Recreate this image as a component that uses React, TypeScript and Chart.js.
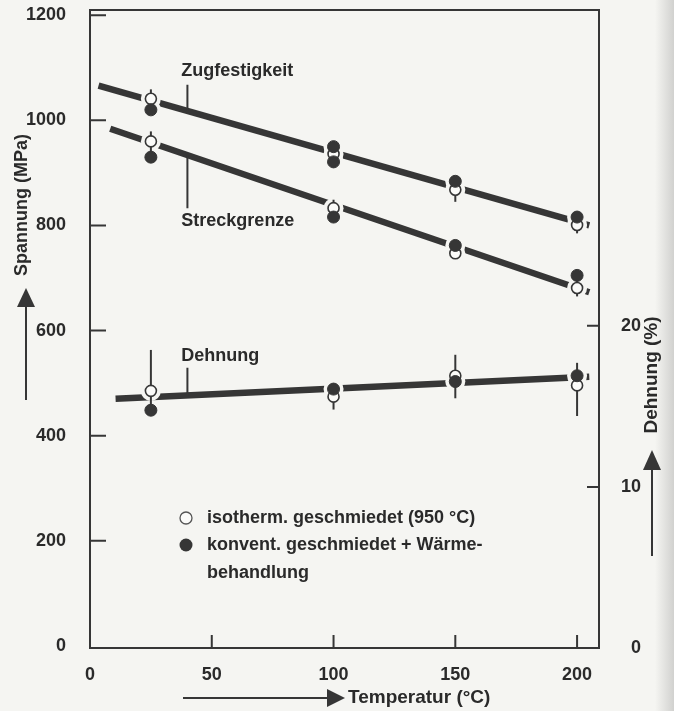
import React, { useEffect, useRef } from "react";
import { Chart, registerables } from "chart.js";

Chart.register(...registerables);

// ---- data ----
const temps = [25, 100, 150, 200];
const zugOpen = [1041, 936, 868, 801];
const zugFilled = [1020, 950, 884, 816];
const zugFilledExtraTemps = [100];
const zugFilledExtra = [921];
const streckOpen = [960, 833, 747, 681];
const streckFilled = [930, 816, 762, 705];
const dehnOpen = [15.96, 15.6, 16.9, 16.3];
const dehnFilled = [14.76, 16.07, 16.54, 16.9];

const zugFitTemps = [3.5, 205];
const zugFit = [1066, 800];
const streckFitTemps = [8.3, 205];
const streckFit = [984, 673];
const dehnFitTemps = [10.5, 205];
const dehnFit = [15.47, 16.84];

const zugErrLow = [1041, null, 845, 785];
const zugErrHigh = [1059, null, 890, 822];
const streckErrLow = [930, 816, null, 665];
const streckErrHigh = [979, 849, null, 705];
const dehnErrLow = [14.76, 14.8, 15.5, 14.4];
const dehnErrHigh = [18.5, 16.07, 18.2, 17.7];

const xTicks = [0, 50, 100, 150, 200];
const yTicks = [0, 200, 400, 600, 800, 1000, 1200];
const y2Ticks = [0, 10, 20];

const legendLabels = [
  "isotherm. geschmiedet (950 °C)",
  "konvent. geschmiedet + Wärme-",
  "behandlung",
];

// ---- style ----
const BG = "#f5f5f2";
const INK = "#363636";
const TEXT = "#2a2a2a";
const FAMILY = '"Liberation Sans", Arial, sans-serif';

const pts = (xs: number[], ys: number[]) => xs.map((x, i) => ({ x, y: ys[i] }));

const decor = {
  id: "decor",
  beforeDraw(chart: any) {
    const { ctx, width, height } = chart;
    ctx.save();
    ctx.fillStyle = BG;
    ctx.fillRect(0, 0, width, height);
    const g = ctx.createLinearGradient(655, 0, width, 0);
    g.addColorStop(0, "rgba(200,200,198,0)");
    g.addColorStop(1, "rgba(200,200,198,0.8)");
    ctx.fillStyle = g;
    ctx.fillRect(655, 0, width - 655, height);
    ctx.restore();
  },
  afterDatasetDraw(chart: any, args: any) {
    const ds = chart.data.datasets[args.index];
    const { ctx } = chart;
    const xs = chart.scales.x;
    const drawErr = (axis: any, lows: (number | null)[], highs: (number | null)[]) => {
      temps.forEach((t, i) => {
        const lo = lows[i];
        const hi = highs[i];
        if (lo == null || hi == null) return;
        const px = xs.getPixelForValue(t);
        ctx.beginPath();
        ctx.moveTo(px, axis.getPixelForValue(lo));
        ctx.lineTo(px, axis.getPixelForValue(hi));
        ctx.stroke();
      });
    };
    ctx.save();
    ctx.strokeStyle = INK;
    ctx.lineWidth = 2;
    if (ds.label === "halo-y") {
      drawErr(chart.scales.y, zugErrLow, zugErrHigh);
      drawErr(chart.scales.y, streckErrLow, streckErrHigh);
    } else if (ds.label === "halo-y2") {
      drawErr(chart.scales.y2, dehnErrLow, dehnErrHigh);
    }
    ctx.restore();
  },
  afterDraw(chart: any) {
    const { ctx, chartArea: a } = chart;
    const sx = chart.scales.x;
    const sy = chart.scales.y;
    const sy2 = chart.scales.y2;
    ctx.save();
    ctx.strokeStyle = INK;
    ctx.lineWidth = 2;
    ctx.strokeRect(a.left, a.top, a.right - a.left, a.bottom - a.top);
    // inward ticks
    ctx.beginPath();
    yTicks.forEach((v) => {
      if (v === 0) return;
      const p = sy.getPixelForValue(v);
      ctx.moveTo(a.left, p);
      ctx.lineTo(a.left + 16, p);
    });
    y2Ticks.forEach((v) => {
      if (v === 0) return;
      const p = sy2.getPixelForValue(v);
      ctx.moveTo(a.right, p);
      ctx.lineTo(a.right - 12, p);
    });
    xTicks.forEach((v) => {
      if (v === 0) return;
      const p = sx.getPixelForValue(v);
      ctx.moveTo(p, a.bottom);
      ctx.lineTo(p, a.bottom - 13);
    });
    ctx.stroke();

    // curve labels with leader lines
    ctx.fillStyle = TEXT;
    ctx.font = `bold 18px ${FAMILY}`;
    ctx.textAlign = "left";
    ctx.textBaseline = "middle";
    const lx = sx.getPixelForValue(37.5);
    const leadX = sx.getPixelForValue(40);
    ctx.fillText("Zugfestigkeit", lx, sy.getPixelForValue(1093));
    ctx.fillText("Streckgrenze", lx, sy.getPixelForValue(809));
    ctx.fillText("Dehnung", lx, sy2.getPixelForValue(18.1));
    ctx.beginPath();
    ctx.moveTo(leadX, sy.getPixelForValue(1068));
    ctx.lineTo(leadX, sy.getPixelForValue(1018));
    ctx.moveTo(leadX, sy.getPixelForValue(934));
    ctx.lineTo(leadX, sy.getPixelForValue(833));
    ctx.moveTo(leadX, sy2.getPixelForValue(17.4));
    ctx.lineTo(leadX, sy2.getPixelForValue(15.68));
    ctx.stroke();

    // legend
    ctx.beginPath();
    ctx.arc(186, 518, 6, 0, Math.PI * 2);
    ctx.fillStyle = "#fbfbf9";
    ctx.fill();
    ctx.lineWidth = 1.3;
    ctx.strokeStyle = "#555";
    ctx.stroke();
    ctx.beginPath();
    ctx.arc(186, 545, 6.5, 0, Math.PI * 2);
    ctx.fillStyle = INK;
    ctx.fill();
    ctx.fillStyle = TEXT;
    ctx.fillText(legendLabels[0], 207, 518);
    ctx.fillText(legendLabels[1], 207, 545);
    ctx.fillText(legendLabels[2], 207, 573);

    // axis titles with arrows
    ctx.fillStyle = TEXT;
    ctx.strokeStyle = INK;
    ctx.lineWidth = 2;
    ctx.save();
    ctx.translate(22, 205);
    ctx.rotate(-Math.PI / 2);
    ctx.textAlign = "center";
    ctx.font = `bold 18px ${FAMILY}`;
    ctx.fillText("Spannung (MPa)", 0, 0);
    ctx.restore();
    ctx.save();
    ctx.translate(652, 375);
    ctx.rotate(-Math.PI / 2);
    ctx.textAlign = "center";
    ctx.font = `bold 19px ${FAMILY}`;
    ctx.fillText("Dehnung (%)", 0, 0);
    ctx.restore();
    ctx.font = `bold 19px ${FAMILY}`;
    ctx.textAlign = "left";
    ctx.fillText("Temperatur (°C)", 348, 698);

    ctx.fillStyle = INK;
    // left arrow
    ctx.beginPath();
    ctx.moveTo(26, 400);
    ctx.lineTo(26, 305);
    ctx.stroke();
    ctx.beginPath();
    ctx.moveTo(26, 288);
    ctx.lineTo(35, 307);
    ctx.lineTo(17, 307);
    ctx.closePath();
    ctx.fill();
    // right arrow
    ctx.beginPath();
    ctx.moveTo(652, 556);
    ctx.lineTo(652, 468);
    ctx.stroke();
    ctx.beginPath();
    ctx.moveTo(652, 450);
    ctx.lineTo(661, 470);
    ctx.lineTo(643, 470);
    ctx.closePath();
    ctx.fill();
    // bottom arrow
    ctx.beginPath();
    ctx.moveTo(183, 698);
    ctx.lineTo(330, 698);
    ctx.stroke();
    ctx.beginPath();
    ctx.moveTo(345, 698);
    ctx.lineTo(327, 689);
    ctx.lineTo(327, 707);
    ctx.closePath();
    ctx.fill();
    ctx.restore();
  },
};

export default function App() {
  const ref = useRef<HTMLCanvasElement>(null);
  useEffect(() => {
    document.body.style.margin = "0";
    const canvas = ref.current!;
    const tickFont = { family: FAMILY, size: 18, weight: "bold" as const };
    const plain = (v: any) => String(v);
    const zugFilledPts = pts(temps, zugFilled).concat(pts(zugFilledExtraTemps, zugFilledExtra));
    const noPad = (s: any) => {
      s.paddingTop = 0;
      s.paddingBottom = 0;
      s.paddingLeft = 0;
      s.paddingRight = 0;
    };
    const chart = new Chart(canvas, {
      type: "line",
      data: {
        datasets: [
          {
            type: "line",
            label: "Zugfestigkeit",
            data: pts(zugFitTemps, zugFit),
            yAxisID: "y",
            borderColor: INK,
            borderWidth: 6.5,
            pointRadius: 0,
            borderCapStyle: "butt",
            order: 10,
          },
          {
            type: "line",
            label: "Streckgrenze",
            data: pts(streckFitTemps, streckFit),
            yAxisID: "y",
            borderColor: INK,
            borderWidth: 6.5,
            pointRadius: 0,
            borderCapStyle: "butt",
            order: 10,
          },
          {
            type: "line",
            label: "Dehnung",
            data: pts(dehnFitTemps, dehnFit),
            yAxisID: "y2",
            borderColor: INK,
            borderWidth: 6.5,
            pointRadius: 0,
            borderCapStyle: "butt",
            order: 10,
          },
          {
            type: "scatter",
            label: "halo-y",
            data: [
              ...pts(temps, zugOpen),
              ...zugFilledPts,
              ...pts(temps, streckOpen),
              ...pts(temps, streckFilled),
            ],
            yAxisID: "y",
            pointRadius: 10,
            pointBackgroundColor: BG,
            pointBorderWidth: 0,
            order: 8,
          },
          {
            type: "scatter",
            label: "halo-y2",
            data: [...pts(temps, dehnOpen), ...pts(temps, dehnFilled)],
            yAxisID: "y2",
            pointRadius: 10,
            pointBackgroundColor: BG,
            pointBorderWidth: 0,
            order: 8,
          },
          {
            type: "scatter",
            label: "isotherm. geschmiedet",
            data: [...pts(temps, zugOpen), ...pts(temps, streckOpen)],
            yAxisID: "y",
            pointRadius: 5.5,
            pointBackgroundColor: "#fbfbf9",
            pointBorderColor: INK,
            pointBorderWidth: 1.6,
            order: 6,
          },
          {
            type: "scatter",
            label: "isotherm. geschmiedet (Dehnung)",
            data: pts(temps, dehnOpen),
            yAxisID: "y2",
            pointRadius: 5.5,
            pointBackgroundColor: "#fbfbf9",
            pointBorderColor: INK,
            pointBorderWidth: 1.6,
            order: 6,
          },
          {
            type: "scatter",
            label: "konvent. geschmiedet + Wärmebehandlung",
            data: [...zugFilledPts, ...pts(temps, streckFilled)],
            yAxisID: "y",
            pointRadius: 6,
            pointBackgroundColor: INK,
            pointBorderColor: INK,
            pointBorderWidth: 1,
            order: 4,
          },
          {
            type: "scatter",
            label: "konvent. geschmiedet (Dehnung)",
            data: pts(temps, dehnFilled),
            yAxisID: "y2",
            pointRadius: 6,
            pointBackgroundColor: INK,
            pointBorderColor: INK,
            pointBorderWidth: 1,
            order: 4,
          },
        ],
      },
      options: {
        responsive: false,
        animation: false,
        events: [],
        layout: { padding: { left: 0, right: 33, top: 10, bottom: 0 } },
        plugins: { legend: { display: false }, tooltip: { enabled: false } },
        scales: {
          x: {
            type: "linear",
            position: "bottom",
            min: 0,
            max: 209,
            afterBuildTicks: (s: any) => {
              s.ticks = xTicks.map((v) => ({ value: v }));
            },
            grid: { display: false, drawTicks: false },
            border: { display: false },
            ticks: { font: tickFont, color: TEXT, padding: 16, maxRotation: 0, autoSkip: false, callback: plain },
            afterFit: (s: any) => {
              s.height = 63;
              noPad(s);
            },
          },
          y: {
            type: "linear",
            position: "left",
            min: -4,
            max: 1210,
            afterBuildTicks: (s: any) => {
              s.ticks = yTicks.map((v) => ({ value: v }));
            },
            grid: { display: false, drawTicks: false },
            border: { display: false },
            ticks: { font: tickFont, color: TEXT, padding: 24, autoSkip: false, callback: plain },
            afterFit: (s: any) => {
              s.width = 90;
              noPad(s);
            },
          },
          y2: {
            type: "linear",
            position: "right",
            min: 0,
            max: 39.6,
            afterBuildTicks: (s: any) => {
              s.ticks = y2Ticks.map((v) => ({ value: v }));
            },
            grid: { display: false, drawTicks: false },
            border: { display: false },
            ticks: { font: tickFont, color: TEXT, padding: 22, crossAlign: "far", autoSkip: false, callback: plain },
            afterFit: (s: any) => {
              s.width = 42;
              noPad(s);
            },
          },
        },
      },
      plugins: [decor],
    } as any);
    return () => chart.destroy();
  }, []);
  return (
    <div style={{ width: 674, height: 711 }}>
      <canvas ref={ref} width={674} height={711} style={{ display: "block", width: "674px", height: "711px" }} />
    </div>
  );
}
